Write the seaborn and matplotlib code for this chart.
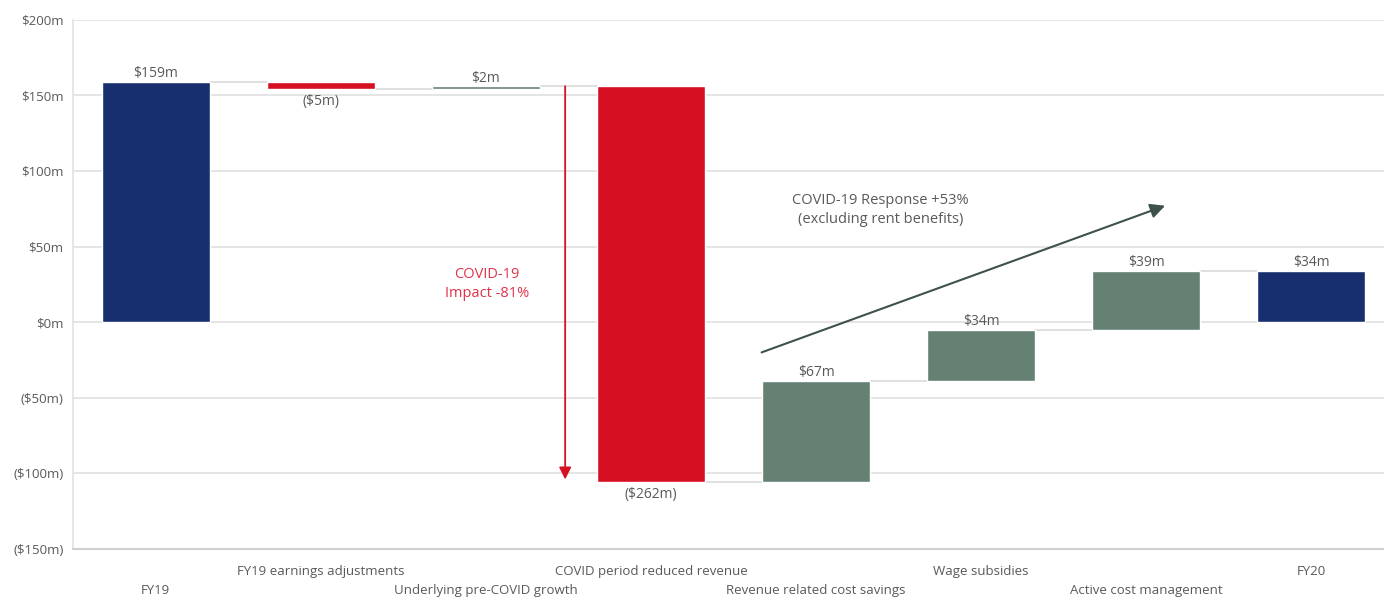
import numpy as np
import pandas as pd
import matplotlib.pyplot as plt
import seaborn as sns

# --- data ---
categories = ['FY19', 'FY19 earnings adjustments', 'Underlying pre-COVID growth',
              'COVID period reduced revenue', 'Revenue related cost savings',
              'Wage subsidies', 'Active cost management', 'FY20']
changes = [159, -5, 2, -262, 67, 34, 39, 34]
kinds = ['total', 'down', 'up', 'down', 'up', 'up', 'up', 'total']
value_labels = ['$159m', '($5m)', '$2m', '($262m)', '$67m', '$34m', '$39m', '$34m']
ytick_vals = [200, 150, 100, 50, 0, -50, -100, -150]
ytick_labels = ['$200m', '$150m', '$100m', '$50m', '$0m', '($50m)', '($100m)', '($150m)']

colors = {'total': '#172F6E', 'down': '#D51022', 'up': '#658173'}
grey_txt = '#595959'

# waterfall bases
starts, ends = [], []
level = 0
for c, k in zip(changes, kinds):
    if k == 'total':
        starts.append(0)
        ends.append(c)
        level = c
    else:
        starts.append(level)
        level = level + c
        ends.append(level)

df = pd.DataFrame({'cat': categories, 'start': starts, 'end': ends, 'kind': kinds})
df['bottom'] = df[['start', 'end']].min(axis=1)
df['height'] = (df['end'] - df['start']).abs()

sns.set_theme(style='white')
plt.rcParams['font.family'] = ['Open Sans', 'DejaVu Sans']

fig, ax = plt.subplots(figsize=(13.84, 5.98), dpi=100)
fig.subplots_adjust(left=0.053, right=1.007, top=0.967, bottom=0.082)

x = np.arange(len(df))
w = 0.655
ax.bar(x, df['height'], bottom=df['bottom'], width=w,
       color=[colors[k] for k in df['kind']], zorder=3)

# connectors
for i in range(len(df) - 1):
    ax.plot([x[i] + w / 2, x[i + 1] - w / 2], [df['end'][i]] * 2,
            color='#DDDDDD', lw=1.3, zorder=2)

# value labels
for i, row in df.iterrows():
    top = row['bottom'] + row['height']
    if row['kind'] == 'down':
        ax.text(x[i], row['bottom'] - 3, value_labels[i], ha='center', va='top',
                fontsize=10, color=grey_txt)
    else:
        ax.text(x[i], top + 0.5, value_labels[i], ha='center', va='bottom',
                fontsize=10, color=grey_txt)

# annotations
ax.annotate('', xy=(2.48, -104), xytext=(2.48, 156),
            arrowprops=dict(arrowstyle='-|>', color='#D51022', lw=1.3,
                            mutation_scale=18, shrinkA=0, shrinkB=0), zorder=4)
ax.text(2.005, 25, 'COVID-19\nImpact -81%', ha='center', va='center',
        fontsize=10.5, color='#E0334A', linespacing=1.35)
ax.annotate('', xy=(6.115, 77), xytext=(3.67, -20),
            arrowprops=dict(arrowstyle='-|>', color='#3E5249', lw=1.5,
                            mutation_scale=22, shrinkA=0, shrinkB=0), zorder=4)
ax.text(4.39, 74, 'COVID-19 Response +53%\n(excluding rent benefits)', ha='center',
        va='center', fontsize=10.5, color=grey_txt, linespacing=1.4)

# axes styling
ax.set_xlim(-0.5, len(df) - 0.5)
ax.set_ylim(-150, 200)
ax.set_yticks(ytick_vals)
ax.set_yticklabels(ytick_labels, fontsize=9.5, color=grey_txt)
ax.yaxis.grid(True, color='#E3E3E3', lw=1.3, zorder=0)
ax.tick_params(axis='y', length=0, pad=7)
ax.set_xticks(x)
ax.set_xticklabels([])
ax.tick_params(axis='x', length=0)
for i, c in enumerate(categories):
    yoff = -0.042 if i % 2 == 1 else -0.078
    ax.text(x[i], yoff, c, transform=ax.get_xaxis_transform(), ha='center',
            va='center', fontsize=9.5, color=grey_txt)

for s in ['top', 'right']:
    ax.spines[s].set_visible(False)
ax.spines['left'].set_color('#E3E3E3')
ax.spines['bottom'].set_color('#D0D0D0')
ax.spines['bottom'].set_linewidth(1.5)
ax.set_xlabel('')
ax.set_ylabel('')

fig.savefig('out.png', dpi=100)
